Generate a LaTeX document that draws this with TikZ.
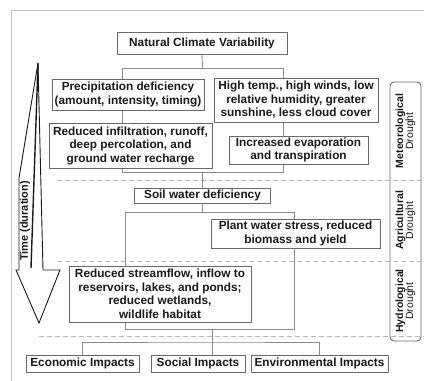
\documentclass[tikz,border=0pt]{standalone}
\usepackage{fontspec}
\setmainfont{Liberation Sans}
\definecolor{boxgray}{HTML}{6A6A6A}
\definecolor{linkgray}{HTML}{8C8C8C}
\definecolor{dashgray}{HTML}{B8B8B8}
\definecolor{framegray}{HTML}{C4C4C4}
\definecolor{txt}{HTML}{1A1A1A}
\begin{document}
\begin{tikzpicture}[x=1pt,y=-1pt,
  box/.style={draw=boxgray, line width=0.9pt, fill=white, inner sep=0pt, align=center,
    font=\bfseries\fontsize{11.8}{13.5}\selectfont, text=txt},
  bracket/.style={draw=linkgray, line width=0.9pt, inner sep=0pt},
  link/.style={draw=linkgray, line width=0.9pt},
  sepline/.style={draw=dashgray, line width=0.7pt, dash pattern=on 5pt off 3pt},
  frameline/.style={draw=framegray, line width=0.8pt},
  sidelabel/.style={rotate=90, align=center, text=txt, inner sep=0pt,
    font=\bfseries\fontsize{10.5}{10}\selectfont},
  arrowline/.style={draw=txt, line width=0.9pt, line join=miter}]
\useasboundingbox (0,0) rectangle (424,381);
% frame
\draw[frameline] (11,381) -- (11,10) -- (424,10);
% brackets
\node[bracket, minimum width=161pt, minimum height=104pt] (r1) at (202.5,120) {};
\node[bracket, minimum width=169pt, minimum height=117pt] (r2) at (209.5,270.5) {};
% side box
\node[draw=boxgray, line width=0.9pt, rounded corners=4pt, fill=white, inner sep=0pt,
  minimum width=31pt, minimum height=259pt] (side) at (405.5,211.5) {};
% dashed separators
\coordinate (d1a) at (57,180);  \coordinate (d1b) at (424,180);
\coordinate (d2a) at (57,261);  \coordinate (d2b) at (424,261);
\coordinate (d3a) at (39,336);  \coordinate (d3b) at (424,336);
\draw[sepline] (d1a) -- (d1b);
\draw[sepline] (d2a) -- (d2b);
\draw[sepline] (d3a) -- (d3b);
% boxes
\node[box, minimum width=170pt, minimum height=22pt] (ncv) at (202,43) {Natural Climate Variability};
\node[box, minimum width=152pt, minimum height=31pt] (prec) at (128,94.5) {Precipitation deficiency\\(amount, intensity, timing)};
\node[box, minimum width=164pt, minimum height=44pt] (high) at (296,100) {High temp., high winds, low\\relative humidity, greater\\sunshine, less cloud cover};
\node[box, minimum width=163pt, minimum height=45pt] (infil) at (130.5,145.5) {Reduced infiltration, runoff,\\deep percolation, and\\ground water recharge};
\node[box, minimum width=139pt, minimum height=28pt] (evap) at (298.5,150) {Increased evaporation\\and transpiration};
\node[box, minimum width=136pt, minimum height=15pt] (soil) at (202.5,195.5) {Soil water deficiency};
\node[box, minimum width=169pt, minimum height=29pt] (plant) at (295.5,233.5) {Plant water stress, reduced\\biomass and yield};
\node[box, minimum width=182pt, minimum height=56pt] (stream) at (160,294) {Reduced streamflow, inflow to\\reservoirs, lakes, and ponds;\\reduced wetlands,\\wildlife habitat};
\node[box, minimum width=113pt, minimum height=17pt] (econ) at (82.5,363.5) {Economic Impacts};
\node[box, minimum width=94pt, minimum height=17pt] (social) at (198,363.5) {Social Impacts};
\node[box, minimum width=137pt, minimum height=17pt] (env) at (319.5,363.5) {Environmental Impacts};
% connectors
\draw[link] (ncv.south) -- (r1.north);
\draw[link] (r1.south) -- (soil.north);
\draw[link] (soil.south) -- (soil.south |- r2.north);
\coordinate (j) at (212,342);
\draw[link] (j |- r2.south) -- (j |- social.north);
\draw[link] (econ.north) |- (j) -| (env.north);
% side labels
\node[sidelabel] (met) at (405.5,131) {Meteorological\\{\mdseries Drought}};
\node[sidelabel] (agr) at (405.5,220.5) {Agricultural\\{\mdseries Drought}};
\node[sidelabel] (hyd) at (405.5,301) {Hydrological\\{\mdseries Drought}};
% time arrow
\draw[arrowline] (38,63) -- (43,270) -- (60,270) -- (39,323) -- (16,270) -- (19,270) -- (19,178) -- cycle;
\draw[draw=txt, line width=1.4pt] (38,63) -- (31,268);
\node[rotate=90, inner sep=0pt, text=txt, font=\bfseries\fontsize{11}{12}\selectfont] (time) at (25,221) {Time (duration)};
\end{tikzpicture}
\end{document}
